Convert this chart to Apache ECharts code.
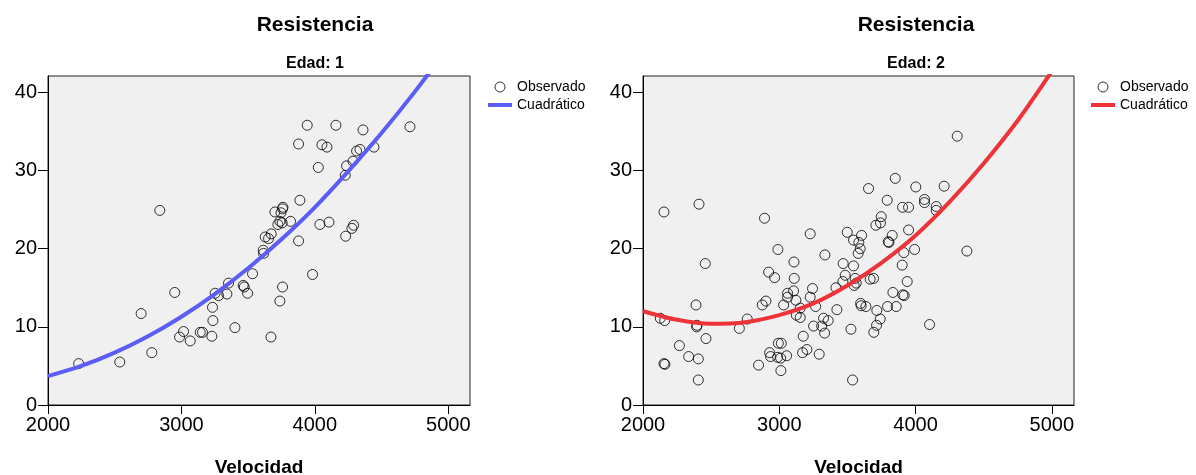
<!DOCTYPE html>
<html>
<head>
<meta charset="utf-8">
<script src="https://cdn.jsdelivr.net/npm/echarts@6/dist/echarts.min.js"></script>
<style>
html,body{margin:0;padding:0;background:#fff;}
#chart{width:1196px;height:475px;}
</style>
</head>
<body>
<div id="chart"></div>
<script>
// ---- data ----
const xTicks = [2000, 3000, 4000, 5000];
const yTicks = [0, 10, 20, 30, 40];

// Edad: 1
const ageOneVel = [2230,2538,2778,2698,2838,2950,2986,3016,3066,3141,3158,3228,3236,3233,3253,3278,3341,3353,3401,3463,3471,3496,3533,3613,3616,3628,3653,3673,3671,3701,3723,3738,3746,3758,3761,3755,3738,3758,3818,3878,3888,3878,3943,3983,4026,4038,4053,4091,4106,4158,4228,4238,4231,4278,4291,4286,4313,4338,4361,4443,4713];
const ageOneRes = [5.3,5.5,6.7,11.7,24.9,14.4,8.7,9.4,8.2,9.3,9.3,8.8,10.8,12.5,14.3,14.0,14.2,15.6,9.9,15.3,15.1,14.3,16.8,19.8,19.4,21.5,21.3,21.9,8.7,24.7,23.1,23.5,24.6,25.1,25.3,23.3,13.3,15.1,23.5,33.4,26.2,21.0,35.8,16.7,30.4,23.1,33.3,33.0,23.4,35.8,29.4,30.6,21.6,22.6,23.0,31.2,32.5,32.7,35.2,33.0,35.6];

// Edad: 2
const ageTwoVel = [2154,2411,2457,2389,2127,2159,2396,2394,2462,2267,2335,2406,2154,2161,2406,2707,2765,2848,2892,2875,2902,2922,2966,2929,2936,2990,2993,3015,2988,3010,3012,3054,3032,3061,3061,3108,3110,3105,3122,3154,3125,3154,3176,3171,3203,3227,3244,3227,3267,3252,3293,3335,3311,3325,3359,3333,3416,3423,3469,3484,3467,3499,3545,3545,3557,3550,3565,3526,3538,3604,3584,3594,3579,3597,3601,3636,3655,3667,3692,3709,3748,3743,3716,3741,3714,3694,3792,3829,3800,3805,3795,3834,3858,3851,3905,3949,3914,3902,3907,3917,3949,3939,4002,3993,4066,4066,4103,4152,4152,4210,4306,4377];
const ageTwoRes = [24.7,25.7,18.1,12.8,11.1,10.8,10.2,10.0,8.5,7.6,6.2,5.9,5.3,5.2,3.2,9.8,11.0,5.1,23.9,12.8,13.3,17.0,16.3,6.7,6.2,19.9,7.9,7.9,6.1,6.0,4.4,6.3,12.8,14.3,13.8,18.3,16.2,14.6,13.4,12.4,11.5,11.2,8.8,6.7,7.1,21.9,14.9,13.8,12.6,10.1,6.5,19.2,10.1,11.1,10.8,9.2,15.0,12.2,18.1,16.6,15.8,22.1,21.1,17.8,16.2,15.3,15.6,9.7,3.2,21.7,20.8,20.0,19.4,13.0,12.7,12.6,27.7,16.1,16.2,23.0,24.1,23.3,12.1,11.0,10.2,9.3,26.2,21.7,20.9,20.8,12.6,14.4,12.6,29.0,25.3,25.3,19.5,17.9,14.1,14.0,22.4,15.8,27.9,19.9,26.3,25.9,10.3,25.4,24.9,28.0,34.4,19.7];

// Quadratic fit curves
const curveVel = [2000,2250,2500,2750,3000,3250,3500,3750,4000,4250,4500,4750,5000];
const curveOne = [3.7,5.0,6.7,8.8,11.3,14.2,17.5,21.2,25.3,29.9,34.8,40.1,45.8];
const curveTwo = [12.0,10.9,10.4,10.6,11.5,13.0,15.3,18.2,21.7,26.0,30.9,36.4,42.7];

const titleText = 'Resistencia';
const panelTitles = ['Edad: 1', 'Edad: 2'];
const xName = 'Velocidad';
const legendNames = ['Observado', 'Cuadrático'];

// ---- build ----
const FONT = '"Liberation Sans", Arial, sans-serif';
const BLUE = '#5c5cf6';
const RED = '#ee3338';
const zip = (a, b) => a.map((v, i) => [v, b[i]]);

const grids = [
  {left: 48, top: 76, width: 422, height: 329},
  {left: 643, top: 76, width: 431, height: 329}
].map(g => Object.assign(g, {show: true, containLabel: false, outerBoundsMode: 'none',
  backgroundColor: '#f0f0f0', borderColor: '#222', borderWidth: 1}));

function xAxis(i) {
  return {
    gridIndex: i, type: 'value', min: xTicks[0], max: 5163, interval: 1000,
    name: xName, nameLocation: 'middle', nameGap: 53,
    nameTextStyle: {fontFamily: FONT, fontSize: 19, fontWeight: 'bold', color: '#000'},
    axisLine: {show: true, onZero: false, lineStyle: {color: '#000', width: 1}},
    axisTick: {show: true, length: 9, lineStyle: {color: '#000'}},
    axisLabel: {fontFamily: FONT, fontSize: 20, color: '#000', margin: 10, showMaxLabel: false,
      formatter: v => xTicks.includes(v) ? String(v) : ''},
    splitLine: {show: false}
  };
}
function yAxis(i) {
  return {
    gridIndex: i, type: 'value', min: yTicks[0], max: 42.1, interval: 10,
    axisLine: {show: true, onZero: false, lineStyle: {color: '#000', width: 1}},
    axisTick: {show: true, length: 10, lineStyle: {color: '#000'}},
    axisLabel: {fontFamily: FONT, fontSize: 20, color: '#000', margin: 11, showMaxLabel: false,
      formatter: v => yTicks.includes(v) ? String(v) : ''},
    splitLine: {show: false}
  };
}

const circleStyle = {color: 'rgba(0,0,0,0)', borderColor: '#000', borderWidth: 1};
const lineIcon = 'path://M0,0L24,0L24,4L0,4Z';

function legend(i, left, color) {
  return {
    orient: 'vertical', left: left, top: 80, padding: 0, itemGap: 4,
    itemWidth: 24, itemHeight: 10, selectedMode: false,
    textStyle: {fontFamily: FONT, fontSize: 14, color: '#000', lineHeight: 14},
    formatter: n => n.split('|')[0],
    data: [
      {name: legendNames[0] + '|' + i, icon: 'circle', itemStyle: circleStyle},
      {name: legendNames[1] + '|' + i, icon: lineIcon, itemStyle: {color: color, borderWidth: 0}}
    ]
  };
}

function titles(cx, sub) {
  return [
    {text: titleText, left: cx, top: 15, textAlign: 'center', padding: 0,
      textStyle: {fontFamily: FONT, fontSize: 21, fontWeight: 'bold', color: '#000'}},
    {text: sub, left: cx, top: 56, textAlign: 'center', padding: 0,
      textStyle: {fontFamily: FONT, fontSize: 16, fontWeight: 'bold', color: '#000'}}
  ];
}

function scatter(i, xs, ys) {
  return {
    name: legendNames[0] + '|' + i, type: 'scatter',
    symbol: 'circle', symbolSize: 10, itemStyle: circleStyle,
    data: zip(xs, ys)
  };
}
function curve(i, ys, color) {
  return {
    name: legendNames[1] + '|' + i, type: 'line',
    smooth: 0.3, showSymbol: false, clip: true,
    lineStyle: {color: color, width: 4}, itemStyle: {color: color},
    data: zip(curveVel, ys)
  };
}

const chart = echarts.init(document.getElementById('chart'), null, {renderer: 'canvas'});
chart.setOption({
  animation: false,
  backgroundColor: '#fff',
  title: titles(315, panelTitles[0]).concat(titles(916, panelTitles[1])),
  legend: [legend(1, 488, BLUE), legend(2, 1091, RED)],
  grid: grids,
  xAxis: [xAxis(0), xAxis(1)],
  yAxis: [yAxis(0), yAxis(1)],
  series: [
    scatter(1, ageOneVel, ageOneRes),
    curve(1, curveOne, BLUE),
    scatter(2, ageTwoVel, ageTwoRes),
    curve(2, curveTwo, RED)
  ].map((s, k) => {
    s.xAxisIndex = k < 2 ? 0 : 1;
    s.yAxisIndex = k < 2 ? 0 : 1;
    return s;
  })
});
</script>
</body>
</html>
